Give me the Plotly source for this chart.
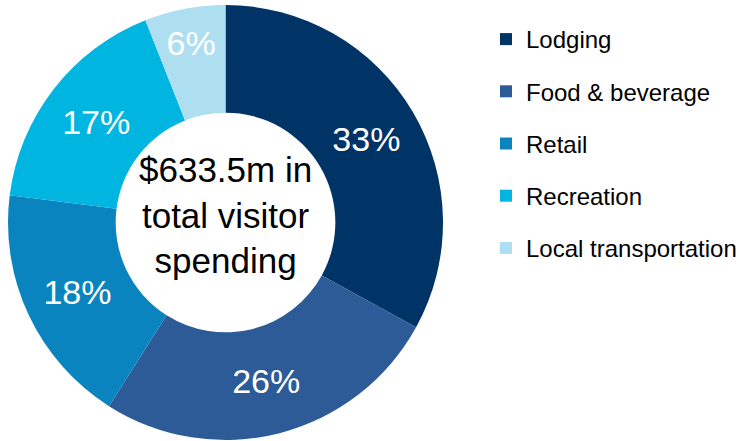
import plotly.graph_objects as go

categories = ["Lodging", "Food & beverage", "Retail", "Recreation", "Local transportation"]
shares = [33, 26, 18, 17, 6]
colors = ["#003466", "#2D5B98", "#0A84BF", "#00B5E0", "#AEDFF1"]
center_text = "$633.5m in<br>total visitor<br>spending"

W, H = 745, 441
fig = go.Figure()
fig.add_trace(go.Pie(
    labels=categories, values=shares, sort=False, direction="clockwise",
    rotation=0, hole=0.505,
    marker=dict(colors=colors, line=dict(width=0)),
    textinfo="percent", texttemplate="%{value}%",
    textposition="inside", insidetextorientation="horizontal",
    textfont=dict(family="Liberation Sans, Arial", size=34, color="white"),
    domain=dict(x=[8 / W, 443 / W], y=[1 / H, 1 - 5 / H]),
    showlegend=False, hoverinfo="label+percent",
))
for name, c in zip(categories, colors):
    fig.add_trace(go.Scatter(
        x=[None], y=[None], mode="markers", name=name, legendgroup=name,
        marker=dict(symbol="square", size=12, color=c),
    ))

fig.add_annotation(
    text=center_text, x=(8 + 443) / 2 / W, y=1 - 215 / H, xref="paper", yref="paper",
    xanchor="center", yanchor="middle",
    showarrow=False, font=dict(family="Liberation Sans, Arial", size=35, color="black"),
    align="center",
)
fig.update_layout(
    width=W, height=H, margin=dict(l=0, r=0, t=0, b=0, autoexpand=False),
    paper_bgcolor="white", plot_bgcolor="white",
    xaxis=dict(visible=False), yaxis=dict(visible=False),
    legend=dict(x=486 / W, y=1 - 17 / H, xanchor="left", yanchor="top",
                font=dict(family="Liberation Sans, Arial", size=24, color="black"),
                tracegroupgap=18, itemwidth=30, bgcolor="rgba(0,0,0,0)"),
)
fig.write_html("out.html", config={"displayModeBar": False},
               post_script="document.body.style.margin='0';")
